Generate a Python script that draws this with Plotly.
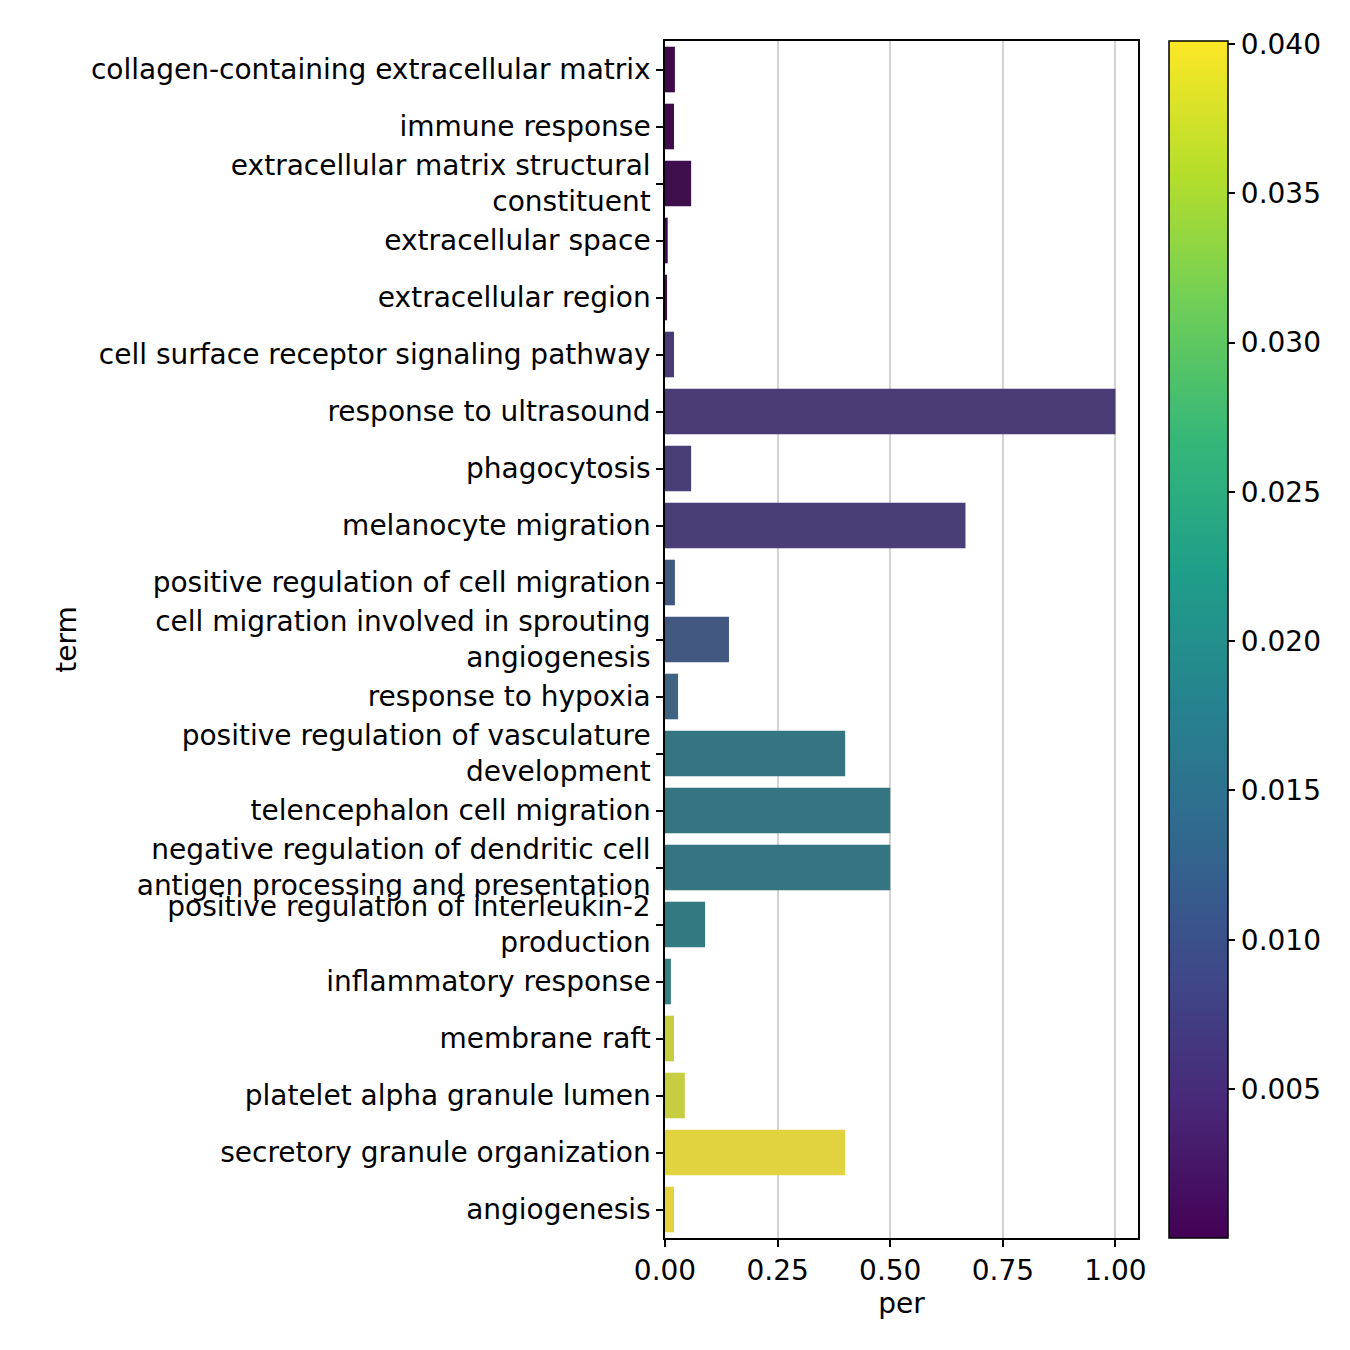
import colorsys
import plotly.graph_objects as go
import plotly.express as px

terms = [
    "collagen-containing extracellular matrix",
    "immune response",
    "extracellular matrix structural<br>constituent",
    "extracellular space",
    "extracellular region",
    "cell surface receptor signaling pathway",
    "response to ultrasound",
    "phagocytosis",
    "melanocyte migration",
    "positive regulation of cell migration",
    "cell migration involved in sprouting<br>angiogenesis",
    "response to hypoxia",
    "positive regulation of vasculature<br>development",
    "telencephalon cell migration",
    "negative regulation of dendritic cell<br>antigen processing and presentation",
    "positive regulation of interleukin-2<br>production",
    "inflammatory response",
    "membrane raft",
    "platelet alpha granule lumen",
    "secretory granule organization",
    "angiogenesis",
]
per = [0.022, 0.020, 0.058, 0.006, 0.004, 0.020, 1.0, 0.058, 0.667, 0.022,
       0.142, 0.029, 0.4, 0.5, 0.5, 0.089, 0.013, 0.020, 0.044, 0.4, 0.020]
pval = [0.00002, 0.0002, 0.0004, 0.0003, 0.0003, 0.0060, 0.0060, 0.0062, 0.0062, 0.0105,
        0.0105, 0.0130, 0.0172, 0.0172, 0.0172, 0.0180, 0.0190, 0.0380, 0.0380, 0.0400, 0.0401]
cbar_ticks = [0.005, 0.010, 0.015, 0.020, 0.025, 0.030, 0.035, 0.040]

cmin, cmax = 0.00001, 0.0401
viridis = px.colors.sequential.Viridis

# seaborn desaturates bar colours (saturation 0.75)
def desat(hexc, s=0.75):
    r, g, b = [int(hexc[i:i + 2], 16) / 255 for i in (1, 3, 5)]
    h, l, sat = colorsys.rgb_to_hls(r, g, b)
    r, g, b = colorsys.hls_to_rgb(h, l, sat * s)
    return "rgb(%d,%d,%d)" % (round(r * 255), round(g * 255), round(b * 255))

n = len(viridis)
bar_scale = [[i / (n - 1), desat(c)] for i, c in enumerate(viridis)]

FS = 28

fig = go.Figure()
fig.add_trace(go.Bar(
    x=per, y=terms, orientation="h", width=0.8,
    marker=dict(color=pval, colorscale=bar_scale, cmin=cmin, cmax=cmax,
                showscale=False, line=dict(width=0)),
))
# colour bar only (full saturation like the reference)
fig.add_trace(go.Scatter(
    x=[None], y=[None], mode="markers", showlegend=False, hoverinfo="skip",
    marker=dict(color=[cmin, cmax], colorscale="Viridis", cmin=cmin, cmax=cmax,
                showscale=True,
                colorbar=dict(thickness=59, len=1, lenmode="fraction", y=0.5, yanchor="middle",
                              x=1.0655, xanchor="left", xpad=0, ypad=0,
                              outlinecolor="black", outlinewidth=1.5,
                              tickvals=cbar_ticks, ticktext=["%.3f" % v for v in cbar_ticks],
                              ticks="outside", ticklen=7, tickwidth=1.5, tickcolor="black",
                              tickfont=dict(size=FS, color="black"))),
))

fig.update_layout(
    width=1350, height=1350,
    margin=dict(l=657, r=220, t=33, b=120),
    plot_bgcolor="white", paper_bgcolor="white",
    font=dict(family="DejaVu Sans", size=FS, color="black"),
    showlegend=False,
    xaxis=dict(range=[0, 1.05], tickvals=[0, 0.25, 0.5, 0.75, 1.0],
               ticktext=["0.00", "0.25", "0.50", "0.75", "1.00"],
               tickfont=dict(size=FS),
               showgrid=True, gridcolor="#d3d3d3", gridwidth=1.5, zeroline=False,
               showline=True, linecolor="black", linewidth=1.5, mirror=True,
               ticks="outside", ticklen=7, tickwidth=1.5, tickcolor="black",
               layer="above traces",
               title=dict(text="per", standoff=6, font=dict(size=FS))),
    yaxis=dict(autorange=False, range=[len(terms) - 0.5, -0.5],
               tickfont=dict(size=FS),
               showgrid=False, zeroline=False,
               showline=True, linecolor="black", linewidth=1.5, mirror=True,
               ticks="outside", ticklen=7, tickwidth=1.5, tickcolor="black",
               title=dict(text="term", standoff=6, font=dict(size=FS))),
)

fig.write_html("out.html")
